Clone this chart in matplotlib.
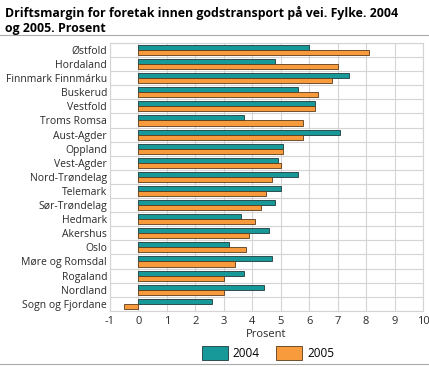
import matplotlib.pyplot as plt
from matplotlib.lines import Line2D
import numpy as np

plt.rcParams['font.family'] = ['Open Sans', 'DejaVu Sans']
plt.rcParams['font.size'] = 8

fylker = ['Østfold', 'Hordaland', 'Finnmark Finnmárku', 'Buskerud', 'Vestfold',
          'Troms Romsa', 'Aust-Agder', 'Oppland', 'Vest-Agder', 'Nord-Trøndelag',
          'Telemark', 'Sør-Trøndelag', 'Hedmark', 'Akershus', 'Oslo',
          'Møre og Romsdal', 'Rogaland', 'Nordland', 'Sogn og Fjordane']
v2004 = [6.0, 4.8, 7.4, 5.6, 6.2, 3.7, 7.1, 5.1, 4.9, 5.6,
         5.0, 4.8, 3.6, 4.6, 3.2, 4.7, 3.7, 4.4, 2.6]
v2005 = [8.1, 7.0, 6.8, 6.3, 6.2, 5.8, 5.8, 5.1, 5.0, 4.7,
         4.5, 4.3, 4.1, 3.9, 3.8, 3.4, 3.0, 3.0, -0.5]
xticks = list(range(-1, 11))

teal = '#17999a'
orange = '#f79b3c'

fig = plt.figure(figsize=(4.29, 3.67), dpi=100)
ax = fig.add_axes([0.256, 0.153, 0.730, 0.730])

y = np.arange(len(fylker))
h = 0.36
ax.barh(y - h/2, v2004, height=h, color=teal, edgecolor='#1f3a3a', linewidth=0.6, label='2004', zorder=3)
ax.barh(y + h/2, v2005, height=h, color=orange, edgecolor='#5a3a1a', linewidth=0.6, label='2005', zorder=3)

ax.set_xlim(-1, 10)
ax.set_ylim(len(fylker) - 0.5, -0.5)
ax.set_xticks(xticks)
ax.set_xticklabels([str(t) for t in xticks])
ax.set_yticks(y)
ax.set_yticklabels(fylker)
ax.set_yticks(np.arange(len(fylker) + 1) - 0.5, minor=True)
ax.tick_params(axis='both', which='both', length=0, labelsize=7.5, colors='#2a2a2a')
ax.tick_params(axis='y', pad=2)
ax.tick_params(axis='x', labelsize=8)
ax.grid(True, axis='x', color='#d4d4d4', linewidth=0.8, zorder=0)
ax.grid(True, axis='y', which='minor', color='#d4d4d4', linewidth=0.8, zorder=0)
ax.grid(False, axis='y', which='major')
for s in ax.spines.values():
    s.set_color('#d4d4d4')
    s.set_linewidth(0.8)
ax.set_xlabel('Prosent', fontsize=8, labelpad=2, color='#2a2a2a')

fig.text(0.012, 0.985, 'Driftsmargin for foretak innen godstransport på vei. Fylke. 2004\nog 2005. Prosent',
         fontsize=8.9, fontweight='bold', va='top', ha='left', linespacing=1.25)
fig.add_artist(Line2D([0.0, 1.0], [0.905, 0.905], color='#aaaaaa', linewidth=0.8))
fig.add_artist(Line2D([0.0, 1.0], [0.008, 0.008], color='#aaaaaa', linewidth=0.8))

fig.legend(loc='center', bbox_to_anchor=(0.625, 0.038), ncol=2, frameon=False,
           handlelength=2.2, handleheight=1.4, handletextpad=0.4, columnspacing=1.4, fontsize=8.5)

plt.savefig('out.png', dpi=100)
